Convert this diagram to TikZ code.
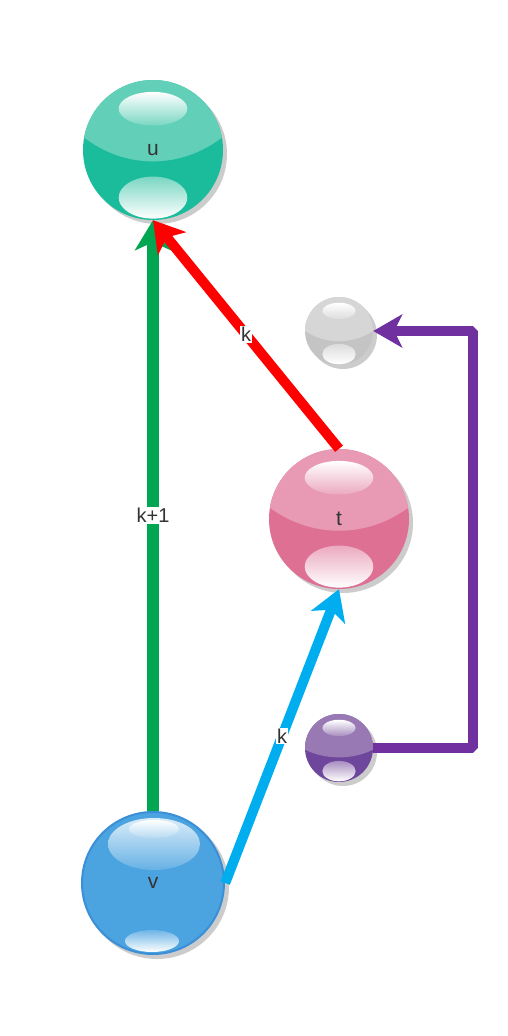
\documentclass[tikz,border=0pt]{standalone}
\usepackage{fontspec}
\setmainfont{Liberation Sans}
\usetikzlibrary{arrows.meta}
\definecolor{shadowgray}{HTML}{CCCCCC}
\definecolor{txtgray}{HTML}{333333}
\definecolor{uup}{HTML}{62D0B8}
\definecolor{ulo}{HTML}{1ABC9C}
\definecolor{tup}{HTML}{E89AB4}
\definecolor{tlo}{HTML}{DE7094}
\definecolor{gup}{HTML}{D6D6D6}
\definecolor{glo}{HTML}{C4C4C4}
\definecolor{pup}{HTML}{9879B4}
\definecolor{plo}{HTML}{6E469C}
\definecolor{vbase}{HTML}{4BA3E0}
\definecolor{vborder}{HTML}{3A8FD6}
\definecolor{cgreen}{HTML}{00A651}
\definecolor{cred}{HTML}{FF0000}
\definecolor{cblue}{HTML}{00AEEF}
\definecolor{cpurple}{HTML}{7030A0}
\newcommand\glossball[9]{%
  \fill[shadowgray] (#2+4,#3+4) circle (#4pt);
  \fill[#6] (#2,#3) circle (#4pt);
  \begin{scope}
    \clip (#2,#3) circle (#4pt);
    \fill[#5] (#2-#4,{#3+(#8)*#4}) .. controls ({#2-0.4*#4},{#3+(#9)*#4}) and ({#2+0.4*#4},{#3+(#9)*#4}) .. (#2+#4,{#3+(#8)*#4}) -- (#2+#4,#3-#4-2) -- (#2-#4,#3-#4-2) -- cycle;
  \end{scope}
  \shade[top color=white, bottom color=#5!85!white] (#2,{#3-0.59*#4}) ellipse [x radius=0.49*#4pt, y radius=0.24*#4pt];
  \shade[top color=#5!85!white, bottom color=white] (#2,{#3+0.68*#4}) ellipse [x radius=0.49*#4pt, y radius=0.3*#4pt];
  \node[ball, minimum size=2*#4pt] (#1) at (#2,#3) {#7};
}
\begin{document}
\begin{tikzpicture}[x=1pt,y=-1pt,
  ball/.style={circle, inner sep=0pt, text=txtgray, font=\fontsize{21pt}{21pt}\selectfont},
  lab/.style={midway, fill=white, inner sep=1pt, text=txtgray, font=\fontsize{20pt}{20pt}\selectfont},
  bigtip/.style={-{Stealth[length=30pt, width=36pt, inset=8pt]}},
  smalltip/.style={-{Stealth[length=29pt, width=33pt, inset=8pt]}}]
\useasboundingbox (0,0) rectangle (508,1036);
% spheres
\glossball{u}{153}{150}{70}{uup}{ulo}{u}{-0.19}{0.28}
\glossball{t}{339}{519}{70}{tup}{tlo}{t}{-0.17}{0.28}
\glossball{g}{339}{331}{34}{gup}{glo}{}{0}{0.4}
\glossball{p}{339}{748}{34}{pup}{plo}{}{0.05}{0.35}
% blue sphere v
\fill[shadowgray] (157,887) circle (72pt);
\fill[vbase, draw=vborder, line width=2pt] (153,883) circle (71pt);
\shade[top color=vbase!20!white, bottom color=vbase!85!white] (154,844) ellipse [x radius=46pt, y radius=26pt];
\shade[top color=white, bottom color=vbase!40!white] (154,829) ellipse [x radius=25pt, y radius=9pt];
\shade[top color=vbase!80!white, bottom color=white] (152,941) ellipse [x radius=27pt, y radius=11pt];
\node[ball, minimum size=144pt] (v) at (153,883) {v};
% connectors
\draw[cgreen, line width=12pt, bigtip] (v.north) -- (u.south) node[lab] {k+1};
\draw[cred, line width=10pt, bigtip] (t.north) -- (u.south) node[lab] {k};
\draw[cblue, line width=10pt, bigtip] (v.east) -- (t.south) node[lab] {k};
\coordinate (pc) at (473,748);
\draw[cpurple, line width=10pt, line join=bevel, smalltip] (p.east) -- (pc) |- (g.east);
\end{tikzpicture}
\end{document}
